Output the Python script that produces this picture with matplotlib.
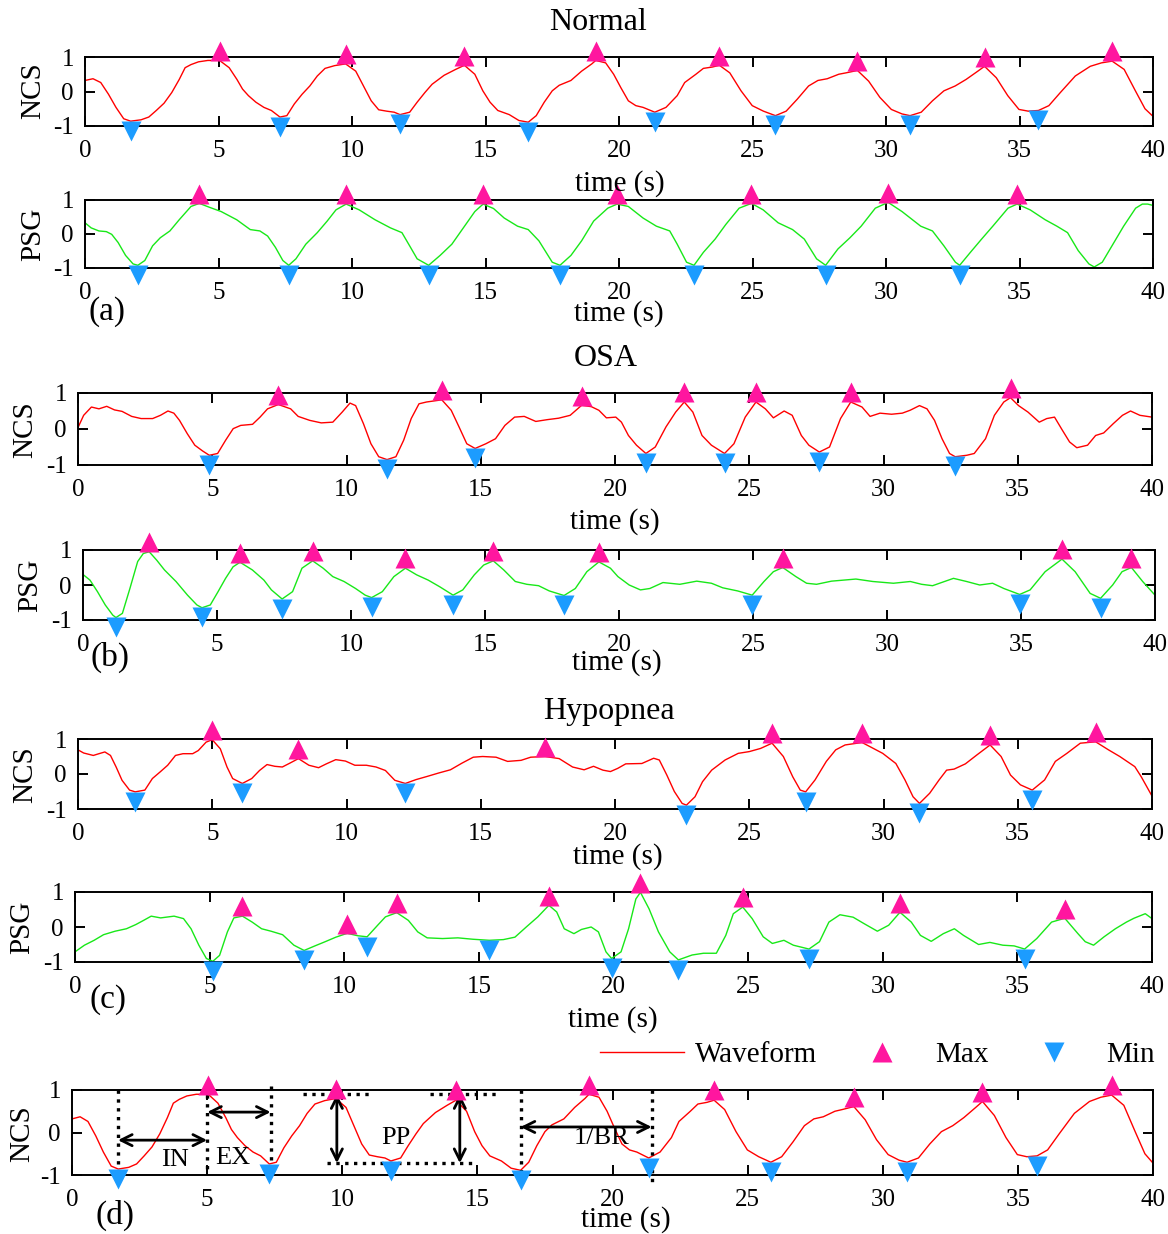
import numpy as np
import matplotlib.pyplot as plt
from matplotlib.lines import Line2D
from matplotlib.transforms import offset_copy

plt.rcParams['font.family'] = ['Liberation Serif', 'DejaVu Serif']
plt.rcParams['axes.unicode_minus'] = False

W, H = 1168, 1234

# ---- waveforms: (time s, normalised value) ----
normal_ncs = [(0, 0.32), (0.3, 0.37), (0.59, 0.26), (0.88, -0.08), (1.16, -0.46), (1.45, -0.79),
              (1.71, -0.86), (2.1, -0.82), (2.39, -0.74), (2.67, -0.55), (2.96, -0.34), (3.25, -0.03),
              (3.53, 0.35), (3.75, 0.69), (3.97, 0.78), (4.25, 0.86), (4.6, 0.90), (5.04, 0.90),
              (5.4, 0.69), (5.69, 0.35), (5.9, 0.07), (6.12, -0.12), (6.4, -0.31), (6.7, -0.46),
              (6.98, -0.55), (7.3, -0.74), (7.56, -0.70), (7.84, -0.36), (8.13, -0.08), (8.42, 0.16),
              (8.7, 0.45), (8.99, 0.67), (9.35, 0.75), (9.76, 0.80), (10.14, 0.59), (10.43, 0.16),
              (10.72, -0.27), (11.0, -0.53), (11.3, -0.57), (11.58, -0.60), (11.8, -0.67), (12.16, -0.60),
              (12.44, -0.31), (12.73, -0.03), (13.0, 0.21), (13.45, 0.47), (13.88, 0.64), (14.21, 0.76),
              (14.6, 0.50), (14.9, 0.02), (15.17, -0.31), (15.46, -0.55), (15.89, -0.67), (16.25, -0.84),
              (16.6, -0.89), (16.9, -0.70), (17.2, -0.31), (17.5, 0.02), (17.76, 0.18), (18.2, 0.32),
              (18.6, 0.59), (18.98, 0.80), (19.13, 0.90), (19.5, 0.83), (19.8, 0.50), (20.07, 0.11),
              (20.35, -0.27), (20.63, -0.41), (20.9, -0.46), (21.34, -0.60), (21.76, -0.46), (22.18, -0.12),
              (22.46, 0.26), (22.88, 0.50), (23.16, 0.67), (23.5, 0.71), (23.76, 0.76), (24.15, 0.54),
              (24.57, 0.02), (24.99, -0.41), (25.41, -0.57), (25.86, -0.70), (26.26, -0.57), (26.68, -0.22),
              (27.1, 0.16), (27.45, 0.32), (27.8, 0.37), (28.23, 0.50), (28.5, 0.54), (28.93, 0.61),
              (29.35, 0.30), (29.77, -0.17), (30.2, -0.52), (30.6, -0.65), (30.9, -0.70), (31.32, -0.60),
              (31.74, -0.27), (32.17, 0.02), (32.59, 0.16), (33.0, 0.35), (33.44, 0.59), (33.69, 0.73),
              (34.13, 0.40), (34.56, -0.12), (34.98, -0.52), (35.33, -0.57), (35.71, -0.55), (36.1, -0.41),
              (36.53, -0.03), (37.09, 0.45), (37.65, 0.73), (38.07, 0.83), (38.47, 0.88), (38.92, 0.64),
              (39.34, 0.02), (39.7, -0.50), (40, -0.72)]
normal_ncs_max = [(5.04, 0.90), (9.76, 0.80), (14.21, 0.76), (19.13, 0.90), (23.76, 0.76),
                  (28.93, 0.61), (33.69, 0.73), (38.47, 0.88)]
normal_ncs_min = [(1.71, -0.86), (7.3, -0.74), (11.8, -0.67), (16.6, -0.89), (21.34, -0.60),
                  (25.86, -0.70), (30.9, -0.70), (35.71, -0.55)]

normal_psg = [(0, 0.33), (0.23, 0.18), (0.52, 0.09), (0.8, 0.07), (1.0, -0.01), (1.24, -0.25),
              (1.52, -0.63), (1.8, -0.88), (1.98, -0.92), (2.24, -0.78), (2.53, -0.35), (2.82, -0.11),
              (3.18, 0.09), (3.53, 0.42), (3.97, 0.81), (4.28, 0.90), (4.68, 0.78), (5.1, 0.66),
              (5.68, 0.42), (6.19, 0.13), (6.55, 0.09), (6.84, -0.06), (7.13, -0.39), (7.41, -0.78),
              (7.63, -0.92), (7.9, -0.73), (8.27, -0.30), (8.7, 0.04), (9.07, 0.38), (9.4, 0.71),
              (9.78, 0.88), (10.27, 0.71), (10.86, 0.42), (11.44, 0.18), (11.87, 0.04), (12.16, -0.35),
              (12.44, -0.73), (12.87, -0.92), (13.3, -0.63), (13.74, -0.30), (14.17, 0.18), (14.6, 0.66),
              (14.91, 0.88), (15.3, 0.75), (15.7, 0.47), (16.2, 0.23), (16.6, 0.13), (17.0, -0.20),
              (17.5, -0.83), (17.79, -0.92), (18.2, -0.63), (18.6, -0.20), (19.05, 0.38), (19.58, 0.76),
              (19.93, 0.88), (20.35, 0.81), (20.9, 0.47), (21.4, 0.23), (21.9, 0.09), (22.18, -0.30),
              (22.53, -0.83), (22.81, -0.92), (23.16, -0.54), (23.6, -0.15), (24.0, 0.28), (24.5, 0.76),
              (24.96, 0.90), (25.4, 0.71), (25.96, 0.33), (26.5, 0.13), (26.94, -0.15), (27.4, -0.73),
              (27.74, -0.92), (28.2, -0.44), (28.65, -0.11), (29.07, 0.23), (29.6, 0.76), (30.08, 0.93),
              (30.6, 0.66), (31.3, 0.23), (31.74, 0.09), (32.17, -0.35), (32.6, -0.83), (32.76, -0.92),
              (33.16, -0.54), (33.58, -0.15), (34.0, 0.23), (34.57, 0.76), (34.91, 0.88), (35.4, 0.71),
              (35.96, 0.42), (36.4, 0.23), (36.8, 0.04), (37.2, -0.49), (37.6, -0.88), (37.8, -0.97),
              (38.1, -0.83), (38.5, -0.30), (38.9, 0.23), (39.35, 0.76), (39.6, 0.88), (39.8, 0.88),
              (40, 0.84)]
normal_psg_max = [(4.28, 0.90), (9.78, 0.88), (14.91, 0.88), (19.93, 0.88), (24.96, 0.90),
                  (30.08, 0.93), (34.91, 0.88)]
normal_psg_min = [(1.98, -0.92), (7.63, -0.92), (12.87, -0.92), (17.79, -0.92), (22.81, -0.92),
                  (27.74, -0.92), (32.76, -0.92)]

osa_ncs = [(0, 0.04), (0.21, 0.38), (0.5, 0.61), (0.78, 0.56), (1.07, 0.63), (1.36, 0.53), (1.64, 0.49),
           (2.0, 0.35), (2.35, 0.29), (2.78, 0.29), (3.07, 0.38), (3.35, 0.50), (3.57, 0.44), (3.78, 0.24),
           (4.07, -0.13), (4.35, -0.45), (4.64, -0.61), (4.89, -0.73), (5.2, -0.68), (5.5, -0.31),
           (5.78, 0.01), (6.06, 0.10), (6.5, 0.13), (6.78, 0.33), (7.06, 0.56), (7.46, 0.68), (7.92, 0.56),
           (8.2, 0.35), (8.63, 0.24), (9.06, 0.17), (9.49, 0.19), (9.84, 0.47), (10.13, 0.72), (10.34, 0.65),
           (10.63, 0.15), (10.91, -0.41), (11.2, -0.77), (11.51, -0.85), (11.84, -0.77), (12.13, -0.31),
           (12.41, 0.29), (12.7, 0.70), (12.98, 0.75), (13.55, 0.81), (13.9, 0.52), (14.19, 0.06),
           (14.48, -0.41), (14.79, -0.54), (15.19, -0.41), (15.55, -0.27), (15.9, 0.10), (16.26, 0.33),
           (16.62, 0.35), (17.05, 0.21), (17.48, 0.26), (17.9, 0.30), (18.33, 0.38), (18.76, 0.66),
           (19.12, 0.62), (19.4, 0.52), (19.68, 0.31), (20.03, 0.33), (20.24, 0.19), (20.5, -0.18),
           (20.8, -0.45), (21.15, -0.68), (21.5, -0.50), (21.9, 0.06), (22.26, 0.47), (22.58, 0.75),
           (22.9, 0.47), (23.24, -0.18), (23.59, -0.45), (24.08, -0.68), (24.43, -0.41), (24.85, 0.33),
           (25.25, 0.75), (25.6, 0.56), (25.9, 0.31), (26.3, 0.50), (26.6, 0.38), (26.94, -0.18),
           (27.22, -0.45), (27.61, -0.64), (27.99, -0.50), (28.4, 0.29), (28.78, 0.75), (29.2, 0.61),
           (29.5, 0.35), (29.87, 0.44), (30.3, 0.41), (30.7, 0.44), (30.99, 0.52), (31.34, 0.65),
           (31.62, 0.56), (31.9, 0.24), (32.18, -0.27), (32.46, -0.68), (32.67, -0.77), (33.1, -0.73),
           (33.38, -0.68), (33.8, -0.27), (34.13, 0.38), (34.48, 0.75), (34.73, 0.87), (35.03, 0.65),
           (35.38, 0.47), (35.8, 0.19), (36.08, 0.29), (36.37, 0.33), (36.65, -0.02), (36.93, -0.36),
           (37.2, -0.52), (37.6, -0.45), (37.9, -0.18), (38.2, -0.11), (38.56, 0.15), (38.9, 0.38),
           (39.2, 0.50), (39.55, 0.38), (40, 0.33)]
osa_ncs_max = [(7.46, 0.68), (13.55, 0.81), (18.76, 0.66), (22.58, 0.75), (25.25, 0.75),
               (28.78, 0.75), (34.73, 0.87)]
osa_ncs_min = [(4.89, -0.73), (11.51, -0.85), (14.79, -0.54), (21.15, -0.68), (24.08, -0.68),
               (27.61, -0.64), (32.67, -0.77)]

osa_psg = [(0, 0.30), (0.26, 0.14), (0.54, -0.19), (0.83, -0.57), (1.11, -0.86), (1.23, -0.93),
           (1.47, -0.81), (1.75, -0.10), (2.04, 0.67), (2.25, 0.90), (2.47, 0.95), (2.75, 0.71),
           (3.04, 0.43), (3.47, 0.10), (3.9, -0.29), (4.25, -0.57), (4.44, -0.65), (4.75, -0.57),
           (5.04, -0.19), (5.32, 0.19), (5.6, 0.52), (5.86, 0.65), (6.32, 0.43), (6.75, 0.14),
           (7.03, -0.14), (7.43, -0.40), (7.82, -0.19), (8.17, 0.48), (8.57, 0.69), (8.96, 0.48),
           (9.32, 0.24), (9.74, 0.10), (10.17, -0.10), (10.53, -0.29), (10.77, -0.36), (11.17, -0.19),
           (11.6, 0.24), (12.03, 0.48), (12.45, 0.29), (12.88, 0.14), (13.31, -0.05), (13.81, -0.29),
           (14.17, -0.14), (14.6, 0.29), (14.95, 0.57), (15.31, 0.69), (15.7, 0.43), (16.13, 0.10),
           (16.56, 0.02), (17.0, -0.02), (17.4, -0.17), (17.95, -0.30), (18.37, -0.10), (18.8, 0.38),
           (19.25, 0.66), (19.68, 0.48), (19.96, 0.24), (20.38, 0.0), (20.8, -0.14), (21.15, -0.10),
           (21.64, 0.07), (22.27, 0.02), (22.9, 0.11), (23.45, 0.05), (23.87, -0.08), (24.43, -0.17),
           (24.97, -0.29), (25.41, 0.10), (25.76, 0.38), (26.11, 0.50), (26.6, 0.24), (27.0, 0.05),
           (27.37, 0.02), (27.93, 0.11), (28.84, 0.17), (29.47, 0.10), (30.24, 0.05), (30.87, 0.10),
           (31.29, 0.02), (31.7, -0.02), (32.48, 0.19), (32.97, 0.10), (33.46, 0.0), (33.94, 0.05),
           (34.36, -0.10), (34.95, -0.27), (35.34, -0.14), (35.9, 0.38), (36.53, 0.74), (37.02, 0.38),
           (37.58, -0.24), (37.97, -0.38), (38.42, 0.0), (38.77, 0.38), (39.12, 0.50), (39.54, 0.10),
           (40, -0.29)]
osa_psg_max = [(2.47, 0.95), (5.86, 0.65), (8.57, 0.69), (12.03, 0.48), (15.31, 0.69), (19.25, 0.66),
               (26.11, 0.50), (36.53, 0.74), (39.12, 0.50)]
osa_psg_min = [(1.23, -0.93), (4.44, -0.65), (7.43, -0.40), (10.77, -0.36), (13.81, -0.29),
               (17.95, -0.30), (24.97, -0.29), (34.95, -0.27), (37.97, -0.38)]

hyp_ncs = [(0, 0.69), (0.21, 0.60), (0.57, 0.53), (0.78, 0.58), (1.0, 0.63), (1.21, 0.53), (1.42, 0.20),
           (1.64, -0.18), (1.92, -0.46), (2.13, -0.51), (2.49, -0.46), (2.77, -0.13), (3.06, 0.06),
           (3.34, 0.25), (3.63, 0.53), (3.91, 0.58), (4.27, 0.58), (4.48, 0.67), (4.77, 0.91), (5.0, 0.98),
           (5.3, 0.72), (5.55, 0.20), (5.76, -0.13), (6.12, -0.27), (6.47, -0.13), (6.76, 0.10),
           (7.04, 0.27), (7.33, 0.22), (7.61, 0.20), (7.89, 0.31), (8.21, 0.44), (8.6, 0.25), (8.96, 0.18),
           (9.25, 0.29), (9.6, 0.41), (9.96, 0.37), (10.31, 0.25), (10.74, 0.25), (11.1, 0.20),
           (11.45, 0.10), (11.8, -0.18), (12.19, -0.27), (12.59, -0.16), (13.0, -0.07), (13.44, 0.03),
           (13.87, 0.12), (14.3, 0.31), (14.72, 0.48), (15.07, 0.50), (15.57, 0.48), (16.0, 0.36),
           (16.5, 0.39), (16.86, 0.48), (17.4, 0.50), (17.92, 0.44), (18.42, 0.20), (18.85, 0.12),
           (19.2, 0.22), (19.55, 0.11), (19.83, 0.07), (20.1, 0.16), (20.4, 0.29), (21.0, 0.30),
           (21.44, 0.45), (21.65, 0.40), (21.93, -0.03), (22.21, -0.50), (22.5, -0.84), (22.66, -0.89),
           (22.98, -0.65), (23.26, -0.22), (23.6, 0.11), (24.1, 0.40), (24.59, 0.59), (25.0, 0.64),
           (25.42, 0.73), (25.85, 0.88), (26.27, 0.50), (26.62, -0.08), (26.9, -0.46), (27.1, -0.51),
           (27.45, -0.17), (27.87, 0.36), (28.22, 0.69), (28.57, 0.83), (29.2, 0.90), (29.55, 0.76),
           (29.97, 0.59), (30.46, 0.30), (30.8, -0.17), (31.1, -0.65), (31.34, -0.84), (31.72, -0.55),
           (32.07, -0.17), (32.35, 0.11), (32.63, 0.14), (33.05, 0.29), (33.47, 0.54), (33.97, 0.83),
           (34.38, 0.50), (34.73, -0.03), (35.1, -0.31), (35.54, -0.46), (36.0, -0.17), (36.4, 0.36),
           (36.83, 0.59), (37.33, 0.88), (37.9, 0.92), (38.38, 0.69), (38.8, 0.50), (39.36, 0.21),
           (39.6, -0.08), (40, -0.63)]
hyp_ncs_max = [(5.0, 0.98), (8.21, 0.44), (17.4, 0.50), (25.85, 0.88), (29.2, 0.90), (33.97, 0.83),
               (37.9, 0.92)]
hyp_ncs_min = [(2.13, -0.51), (6.12, -0.27), (12.19, -0.27), (22.66, -0.89), (27.1, -0.51),
               (31.34, -0.84), (35.54, -0.46)]

hyp_psg = [(0, -0.71), (0.35, -0.52), (0.71, -0.38), (1.06, -0.22), (1.49, -0.12), (1.91, -0.05),
           (2.26, 0.07), (2.55, 0.19), (2.83, 0.31), (3.18, 0.26), (3.68, 0.31), (4.03, 0.24),
           (4.31, -0.05), (4.6, -0.52), (4.88, -0.90), (5.12, -0.98), (5.37, -0.81), (5.66, -0.14),
           (5.9, 0.26), (6.22, 0.31), (6.58, 0.14), (6.93, -0.05), (7.28, -0.12), (7.71, -0.22),
           (8.13, -0.52), (8.51, -0.67), (8.91, -0.54), (9.26, -0.43), (9.69, -0.29), (10.11, -0.18),
           (10.5, -0.25), (10.85, -0.28), (11.24, 0.05), (11.53, 0.29), (11.95, 0.41), (12.38, 0.19),
           (12.73, -0.14), (13.08, -0.31), (13.65, -0.33), (14.22, -0.31), (14.78, -0.35), (15.39, -0.38),
           (15.91, -0.36), (16.34, -0.29), (16.76, 0.0), (17.19, 0.29), (17.6, 0.62), (17.89, 0.43),
           (18.17, -0.05), (18.53, -0.19), (18.81, -0.07), (19.17, 0.0), (19.44, -0.14), (19.72, -0.71),
           (19.93, -0.90), (20.28, -0.71), (20.56, -0.05), (20.83, 0.80), (21.0, 0.99), (21.32, 0.52),
           (21.67, -0.14), (22.09, -0.71), (22.41, -0.94), (22.92, -0.80), (23.34, -0.75), (23.82, -0.75),
           (24.17, -0.24), (24.45, 0.38), (24.8, 0.57), (25.15, 0.24), (25.56, -0.28), (25.9, -0.47),
           (26.33, -0.38), (26.68, -0.52), (27.26, -0.63), (27.65, -0.42), (28.0, 0.14), (28.41, 0.35),
           (28.9, 0.28), (29.32, 0.09), (29.8, -0.12), (30.22, 0.05), (30.64, 0.42), (31.06, 0.14),
           (31.4, -0.24), (31.8, -0.41), (32.25, -0.19), (32.66, -0.05), (33.0, -0.24), (33.56, -0.50),
           (33.98, -0.44), (34.46, -0.52), (34.88, -0.54), (35.27, -0.63), (35.72, -0.33), (36.27, 0.14),
           (36.76, 0.25), (37.25, -0.19), (37.52, -0.42), (37.83, -0.52), (38.22, -0.28), (38.64, -0.05),
           (39.05, 0.14), (39.33, 0.25), (39.75, 0.38), (40, 0.24)]
hyp_psg_max = [(6.22, 0.31), (10.11, -0.18), (11.95, 0.41), (17.6, 0.62), (21.0, 0.99), (24.8, 0.57),
               (30.64, 0.42), (36.76, 0.25)]
hyp_psg_min = [(5.12, -0.98), (8.51, -0.67), (10.85, -0.28), (15.39, -0.38), (19.93, -0.90),
               (22.41, -0.94), (27.26, -0.63), (35.27, -0.63)]

RED = '#ff0000'
GREEN = '#18e818'
PINK = '#ff169f'
BLUE = '#1c9cff'
MS = 15

fig = plt.figure(figsize=(W / 100, H / 100), dpi=100)


def fx(x):
    return x / W


def fy(y):
    return 1 - y / H


def px_axes(l, t, r, b):
    return fig.add_axes([fx(l), fy(b), (r - l) / W, (b - t) / H])


def ftext(x, y, s, size, **kw):
    fig.text(fx(x), fy(y), s, fontsize=size, ha='center', va='center', **kw)


def draw(ax, wave, maxima, minima, color):
    t, y = np.array(wave).T
    ax.plot(t, y, color=color, lw=1.0)
    up = offset_copy(ax.transData, fig=fig, y=MS / 2 - 0.5, units='points')
    dn = offset_copy(ax.transData, fig=fig, y=-MS / 2 + 0.5, units='points')
    mt, mv = np.array(maxima).T
    nt, nv = np.array(minima).T
    ax.plot(mt, mv, ls='none', marker='^', ms=MS, color=PINK, mec='none',
            transform=up, clip_on=False, zorder=5)
    ax.plot(nt, nv, ls='none', marker='v', ms=MS, color=BLUE, mec='none',
            transform=dn, clip_on=False, zorder=5)
    ax.set_xlim(0, 40)
    ax.set_ylim(-1, 1)
    ax.set_xticks(range(0, 41, 5))
    ax.set_yticks([-1, 0, 1])
    ax.tick_params(direction='in', top=True, right=True, length=7, width=1.4, labelsize=18)
    ax.tick_params(axis='x', pad=10)
    ax.tick_params(axis='y', pad=8)
    for s in ax.spines.values():
        s.set_linewidth(1.4)


panels = [
    ((85, 57, 1153, 126), normal_ncs, normal_ncs_max, normal_ncs_min, RED, 'NCS', (33, 91), (620, 184)),
    ((85, 200, 1153, 268), normal_psg, normal_psg_max, normal_psg_min, GREEN, 'PSG', (33, 234), (619, 314)),
    ((78, 393, 1152, 465), osa_ncs, osa_ncs_max, osa_ncs_min, RED, 'NCS', (25, 430), (615, 522)),
    ((83, 550, 1155, 620), osa_psg, osa_psg_max, osa_psg_min, GREEN, 'PSG', (30, 585), (617, 663)),
    ((78, 739, 1152, 809), hyp_ncs, hyp_ncs_max, hyp_ncs_min, RED, 'NCS', (25, 775), (618, 857)),
    ((75, 892, 1152, 962), hyp_psg, hyp_psg_max, hyp_psg_min, GREEN, 'PSG', (22, 927), (613, 1020)),
    ((72, 1090, 1153, 1175), normal_ncs, normal_ncs_max, normal_ncs_min, RED, 'NCS', (22, 1134), (626, 1220)),
]

axes = []
for rect, wave, mx, mn, col, ylab, ypos, xpos in panels:
    ax = px_axes(*rect)
    draw(ax, wave, mx, mn, col)
    ftext(*ypos, ylab, 21, rotation=90)
    ftext(*xpos, 'time (s)', 21)
    axes.append(ax)

ftext(598, 22, 'Normal', 23)
ftext(606, 358, 'OSA', 23)
ftext(609, 711, 'Hypopnea', 23)
ftext(107, 312, '(a)', 24)
ftext(110, 657, '(b)', 24)
ftext(108, 1000, '(c)', 24)
ftext(115, 1215, '(d)', 24)

# ---- feature annotations on panel (d) ----
ax7 = axes[-1]
dot = dict(color='k', ls=':', lw=2.4, clip_on=False)
for tx, y0, y1 in [(1.7, 1.0, -0.85), (5.0, 1.1, -0.95), (7.35, 1.1, -1.0),
                   (16.6, 1.0, -1.07), (21.45, 1.0, -1.2)]:
    ax7.plot([tx, tx], [y0, y1], **dot)
ax7.plot([8.55, 11.0], [0.9, 0.9], **dot)
ax7.plot([13.25, 15.75], [0.9, 0.9], **dot)
ax7.plot([9.45, 15.0], [-0.72, -0.72], **dot)

arr = dict(arrowstyle='<->', color='k', lw=2, mutation_scale=20, shrinkA=0, shrinkB=0)
ax7.annotate('', xy=(1.7, -0.18), xytext=(5.0, -0.18), arrowprops=arr)
ax7.annotate('', xy=(5.0, 0.48), xytext=(7.35, 0.48), arrowprops=arr)
ax7.annotate('', xy=(9.8, 0.9), xytext=(9.8, -0.72), arrowprops=arr)
ax7.annotate('', xy=(14.35, 0.9), xytext=(14.35, -0.72), arrowprops=arr)
ax7.annotate('', xy=(16.6, 0.13), xytext=(21.45, 0.13), arrowprops=arr)
for tx, ty, s in [(3.8, -0.65, 'IN'), (5.95, -0.6, 'EX'), (12.0, -0.13, 'PP'), (19.6, -0.13, '1/BR')]:
    ax7.text(tx, ty, s, fontsize=19, ha='center', va='center')

handles = [Line2D([], [], color=RED, lw=1.0),
           Line2D([], [], ls='none', marker='^', ms=MS, color=PINK, mec='none'),
           Line2D([], [], ls='none', marker='v', ms=MS, color=BLUE, mec='none')]
ax7.legend(handles, ['Waveform', 'Max', 'Min'], ncol=3, frameon=False, fontsize=21,
           loc='center right', bbox_to_anchor=(fx(1155), fy(1055)), bbox_transform=fig.transFigure,
           handlelength=2.9, handletextpad=0.35, columnspacing=0.8, borderpad=0, borderaxespad=0)

fig.savefig('out.png', dpi=100)
